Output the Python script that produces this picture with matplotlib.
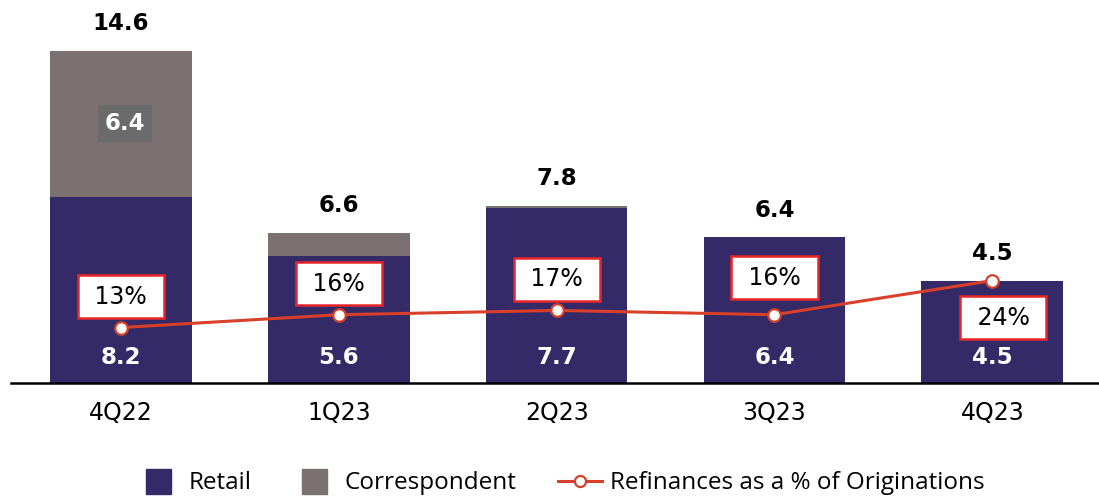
import matplotlib.pyplot as plt
from matplotlib.lines import Line2D
import numpy as np

quarters = ['4Q22', '1Q23', '2Q23', '3Q23', '4Q23']
retail = [8.2, 5.6, 7.7, 6.4, 4.5]
correspondent = [6.4, 1.0, 0.1, 0.0, 0.0]
totals = [14.6, 6.6, 7.8, 6.4, 4.5]
refi_pct = [13, 16, 17, 16, 24]

RETAIL_C = '#352a68'
CORR_C = '#7a7170'
LINE_C = '#d9402b'
BOX_C = '#e8262a'

plt.rcParams['font.family'] = ['DejaVu Sans']

fig = plt.figure(figsize=(10.99, 4.97), dpi=100)
ax = fig.add_axes([11 / 1099, 114 / 497, 1 - 11 / 1099, 373 / 497])

x = np.arange(len(quarters))
ax.bar(x, retail, width=0.65, color=RETAIL_C, zorder=2)
ax.bar(x, correspondent, width=0.65, bottom=retail, color=CORR_C, zorder=2)

ax.set_xlim(-0.505, 4.49)
ax.set_ylim(0, 16.4)
ax.set_yticks([])
ax.set_xticks(x)
ax.set_xticklabels(quarters, fontsize=17)
ax.tick_params(axis='x', length=0, pad=13)
for s in ['top', 'right', 'left']:
    ax.spines[s].set_visible(False)
ax.spines['bottom'].set_linewidth(1.8)
ax.spines['bottom'].set_zorder(5)

# bar labels
for i in range(len(quarters)):
    ax.annotate(f'{retail[i]:.1f}', (x[i], 0), xytext=(0, 26), textcoords='offset pixels',
                ha='center', va='center', color='white', fontsize=16.5, fontweight='bold', zorder=4)
    ax.annotate(f'{totals[i]:.1f}', (x[i], totals[i]), xytext=(0, 27), textcoords='offset pixels',
                ha='center', va='center', color='black', fontsize=16.5, fontweight='bold', zorder=4)
# correspondent label on first bar only (others too thin)
ax.text(x[0] + 0.02, retail[0] + correspondent[0] / 2, f'{correspondent[0]:.1f}',
        ha='center', va='center', color='white', fontsize=16.5, fontweight='bold', zorder=4,
        bbox=dict(boxstyle='square,pad=0.3', fc='#6b6b6b', ec='none'))

# refinance line on secondary axis
ax2 = ax.twinx()
ax2.set_ylim(0, 87.4)
ax2.axis('off')
ax2.plot(x, refi_pct, color=LINE_C, lw=2.2, marker='o', ms=9, mfc='white', mec=LINE_C, mew=1.6, zorder=3)

offsets = [(0, 31), (0, 31), (0, 31), (0, 37), (11, -37)]
for i, p in enumerate(refi_pct):
    ax2.annotate(f' {p}% ', (x[i], p), xytext=offsets[i], textcoords='offset pixels',
                 ha='center', va='center', fontsize=17, color='black', zorder=6,
                 bbox=dict(boxstyle='square,pad=0.4', fc='white', ec=BOX_C, lw=1.8))

handles = [
    Line2D([], [], ls='none', marker='s', ms=18, color=RETAIL_C),
    Line2D([], [], ls='none', marker='s', ms=18, color=CORR_C),
    Line2D([], [], color=LINE_C, lw=2.2, marker='o', ms=8, mfc='white', mec=LINE_C, mew=1.6),
]
fig.legend(handles, ['Retail', 'Correspondent', 'Refinances as a % of Originations'],
           loc='center', bbox_to_anchor=(0.51, 0.028), ncol=3, frameon=False,
           prop={'family': 'Open Sans', 'size': 17.5}, handlelength=1.8, handletextpad=0.35,
           columnspacing=1.7, numpoints=1)

fig.savefig('out.png', dpi=100)
